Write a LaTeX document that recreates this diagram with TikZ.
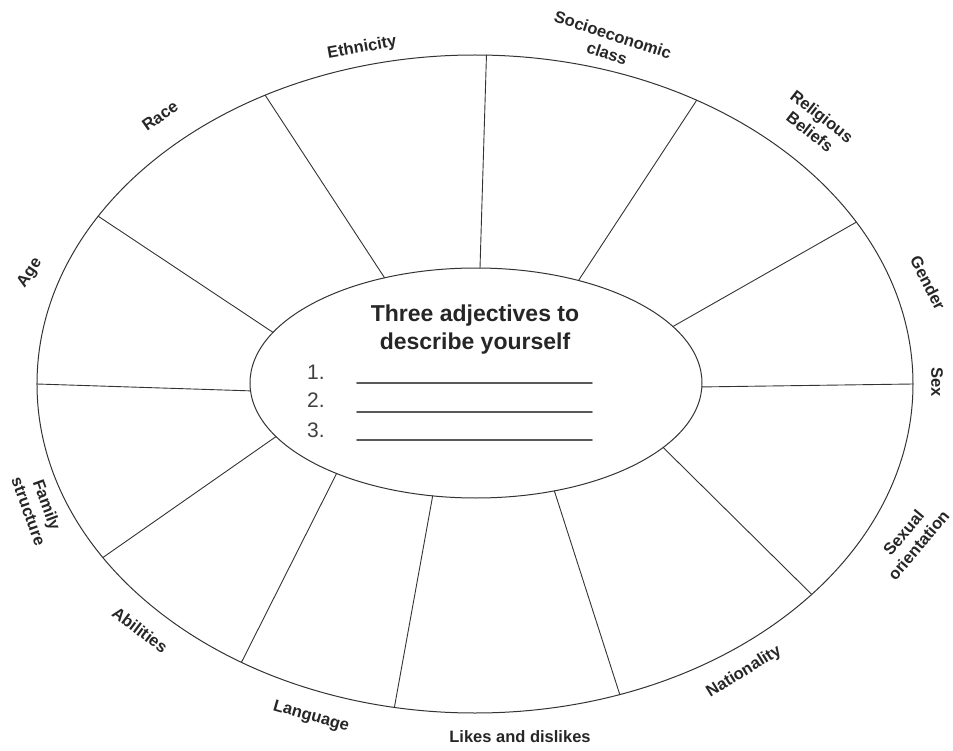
\documentclass[tikz,border=0pt]{standalone}
\usepackage{fontspec}
\setmainfont{Liberation Sans}
\usetikzlibrary{shapes.geometric}
\begin{document}
\begin{tikzpicture}[x=1pt,y=1pt,line join=round,line cap=round,
	rim/.style={ellipse,draw=black!80,line width=1pt,inner sep=0pt,outer sep=0pt},
	lbl/.style={font=\fontsize{16.5}{19.5}\selectfont\bfseries,align=center,inner sep=0pt,text=black!85},
	num/.style={font=\fontsize{21}{24}\selectfont,inner sep=0pt,text=black!75},
	blank/.style={draw=black!65,line width=1.6pt}]
	\useasboundingbox (-475,-366) rectangle (478,384);
	\node[rim,minimum width=876pt,minimum height=658pt] (outer) at (0,0) {};
	\node[rim,minimum width=452pt,minimum height=230pt] (inner) at (1,1) {};
	% spokes: inner angle / outer angle
	\foreach \a/\b in {88.5/88.4,131/126.5,166.1/156,182.5/180,195.8/205.1,213.6/230.2,
		249.1/256.1,306.4/295.2,341.5/328,359.5/0,16.5/23,45.3/52.6}
	\draw[draw=black!80,line width=0.9pt] (inner.\a)--(outer.\b);
	% centre text
	\node[font=\fontsize{23}{28}\selectfont\bfseries,align=center,text=black!85] (title) at (0,54) {Three adjectives to\\describe yourself};
	\node[num] (n1) at (-159,12) {1.};
	\node[num] (n2) at (-159,-16) {2.};
	\node[num] (n3) at (-159,-46) {3.};
	\foreach \y in {1,-28,-56} \draw[blank] (-118,\y)--(117,\y);
	% labels round the rim
	\node[lbl,rotate=10] (ethnicity) at (-113,336) {Ethnicity};
	\node[lbl,rotate=35] (race) at (-315,268) {Race};
	\node[lbl,rotate=56] (age) at (-445,111) {Age};
	\node[lbl,rotate=-18] (socio) at (135,340) {Socioeconomic\\class};
	\node[lbl,rotate=-38] (religion) at (341,260) {Religious\\Beliefs};
	\node[lbl,rotate=-63] (gender) at (453,101) {Gender};
	\node[lbl,rotate=-90] (sex) at (462,2) {Sex};
	\node[lbl,rotate=50] (orient) at (436,-155) {Sexual\\orientation};
	\node[lbl,rotate=32] (nation) at (269,-288) {Nationality};
	\node[lbl] (likes) at (45,-353) {Likes and dislikes};
	\node[lbl,rotate=-16] (language) at (-164,-333) {Language};
	\node[lbl,rotate=-37] (abilities) at (-335,-246) {Abilities};
	\node[lbl,rotate=-70] (family) at (-437,-124) {Family\\structure};
\end{tikzpicture}
\end{document}
